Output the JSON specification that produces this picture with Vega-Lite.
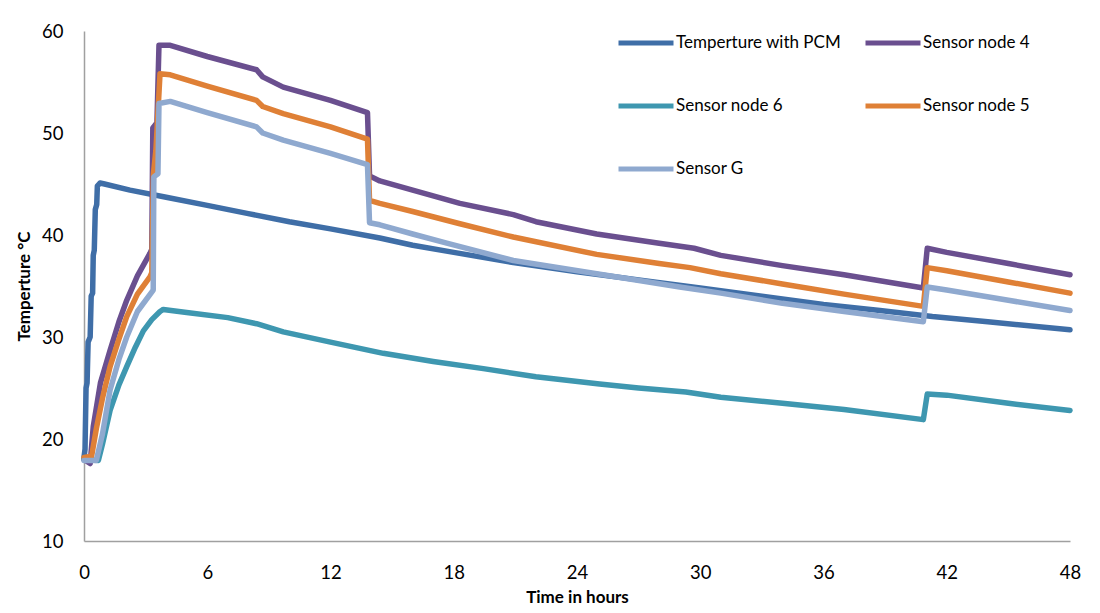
{
  "$schema": "https://vega.github.io/schema/vega-lite/v6.json",
  "width": 986,
  "height": 510,
  "autosize": {"type": "none"},
  "padding": {"left": 84, "top": 31, "right": 30, "bottom": 72},
  "background": "white",
  "config": {
    "view": {"stroke": null},
    "font": "Lato",
    "axis": {
      "grid": false,
      "ticks": false,
      "tickSize": 0,
      "domainColor": "#a0a0a0",
      "domainWidth": 1.5,
      "labelFont": "Lato",
      "labelFontSize": 18.5,
      "labelColor": "#000000",
      "titleFont": "Lato",
      "titleFontSize": 17,
      "titleFontWeight": "bold",
      "titleColor": "#000000"
    },
    "legend": {
      "labelFont": "Lato",
      "labelFontSize": 17,
      "labelColor": "#000000",
      "labelLimit": 400
    }
  },
  "data": {
    "values": [
      {"h": 0, "t": 18.2, "s": "Temperture with PCM"},
      {"h": 0.05, "t": 19.0, "s": "Temperture with PCM"},
      {"h": 0.1, "t": 25.0, "s": "Temperture with PCM"},
      {"h": 0.15, "t": 25.5, "s": "Temperture with PCM"},
      {"h": 0.2, "t": 29.5, "s": "Temperture with PCM"},
      {"h": 0.3, "t": 30.0, "s": "Temperture with PCM"},
      {"h": 0.35, "t": 34.0, "s": "Temperture with PCM"},
      {"h": 0.42, "t": 34.3, "s": "Temperture with PCM"},
      {"h": 0.45, "t": 38.0, "s": "Temperture with PCM"},
      {"h": 0.5, "t": 38.5, "s": "Temperture with PCM"},
      {"h": 0.55, "t": 42.5, "s": "Temperture with PCM"},
      {"h": 0.62, "t": 43.0, "s": "Temperture with PCM"},
      {"h": 0.65, "t": 44.8, "s": "Temperture with PCM"},
      {"h": 0.78, "t": 45.1, "s": "Temperture with PCM"},
      {"h": 1, "t": 45.0, "s": "Temperture with PCM"},
      {"h": 2.24, "t": 44.4, "s": "Temperture with PCM"},
      {"h": 4, "t": 43.7, "s": "Temperture with PCM"},
      {"h": 6, "t": 42.9, "s": "Temperture with PCM"},
      {"h": 8, "t": 42.1, "s": "Temperture with PCM"},
      {"h": 10, "t": 41.3, "s": "Temperture with PCM"},
      {"h": 12, "t": 40.6, "s": "Temperture with PCM"},
      {"h": 14.4, "t": 39.7, "s": "Temperture with PCM"},
      {"h": 16, "t": 39.0, "s": "Temperture with PCM"},
      {"h": 18, "t": 38.3, "s": "Temperture with PCM"},
      {"h": 20.9, "t": 37.3, "s": "Temperture with PCM"},
      {"h": 24, "t": 36.4, "s": "Temperture with PCM"},
      {"h": 27, "t": 35.6, "s": "Temperture with PCM"},
      {"h": 30, "t": 34.8, "s": "Temperture with PCM"},
      {"h": 33, "t": 34.0, "s": "Temperture with PCM"},
      {"h": 36, "t": 33.2, "s": "Temperture with PCM"},
      {"h": 38.75, "t": 32.6, "s": "Temperture with PCM"},
      {"h": 41.3, "t": 32.0, "s": "Temperture with PCM"},
      {"h": 44, "t": 31.5, "s": "Temperture with PCM"},
      {"h": 48, "t": 30.7, "s": "Temperture with PCM"},

      {"h": 0, "t": 18.0, "s": "Sensor node 4"},
      {"h": 0.3, "t": 17.6, "s": "Sensor node 4"},
      {"h": 0.45, "t": 21.2, "s": "Sensor node 4"},
      {"h": 0.8, "t": 25.5, "s": "Sensor node 4"},
      {"h": 1.27, "t": 28.7, "s": "Sensor node 4"},
      {"h": 1.7, "t": 31.5, "s": "Sensor node 4"},
      {"h": 2.08, "t": 33.6, "s": "Sensor node 4"},
      {"h": 2.6, "t": 36.0, "s": "Sensor node 4"},
      {"h": 3.21, "t": 38.2, "s": "Sensor node 4"},
      {"h": 3.3, "t": 38.6, "s": "Sensor node 4"},
      {"h": 3.35, "t": 50.5, "s": "Sensor node 4"},
      {"h": 3.55, "t": 51.0, "s": "Sensor node 4"},
      {"h": 3.65, "t": 58.6, "s": "Sensor node 4"},
      {"h": 4.2, "t": 58.6, "s": "Sensor node 4"},
      {"h": 6, "t": 57.5, "s": "Sensor node 4"},
      {"h": 8.4, "t": 56.2, "s": "Sensor node 4"},
      {"h": 8.7, "t": 55.5, "s": "Sensor node 4"},
      {"h": 9.7, "t": 54.5, "s": "Sensor node 4"},
      {"h": 12, "t": 53.2, "s": "Sensor node 4"},
      {"h": 13.8, "t": 52.0, "s": "Sensor node 4"},
      {"h": 13.9, "t": 45.8, "s": "Sensor node 4"},
      {"h": 14.4, "t": 45.3, "s": "Sensor node 4"},
      {"h": 16, "t": 44.4, "s": "Sensor node 4"},
      {"h": 18.3, "t": 43.1, "s": "Sensor node 4"},
      {"h": 20.9, "t": 42.0, "s": "Sensor node 4"},
      {"h": 22, "t": 41.3, "s": "Sensor node 4"},
      {"h": 24.96, "t": 40.1, "s": "Sensor node 4"},
      {"h": 28, "t": 39.2, "s": "Sensor node 4"},
      {"h": 29.7, "t": 38.7, "s": "Sensor node 4"},
      {"h": 31, "t": 38.0, "s": "Sensor node 4"},
      {"h": 34, "t": 37.0, "s": "Sensor node 4"},
      {"h": 37, "t": 36.1, "s": "Sensor node 4"},
      {"h": 40.86, "t": 34.8, "s": "Sensor node 4"},
      {"h": 41.05, "t": 38.7, "s": "Sensor node 4"},
      {"h": 42, "t": 38.3, "s": "Sensor node 4"},
      {"h": 45, "t": 37.2, "s": "Sensor node 4"},
      {"h": 48, "t": 36.1, "s": "Sensor node 4"},

      {"h": 0, "t": 18.0, "s": "Sensor node 6"},
      {"h": 0.7, "t": 17.9, "s": "Sensor node 6"},
      {"h": 0.9, "t": 19.5, "s": "Sensor node 6"},
      {"h": 1.27, "t": 22.8, "s": "Sensor node 6"},
      {"h": 1.7, "t": 25.3, "s": "Sensor node 6"},
      {"h": 2.08, "t": 27.1, "s": "Sensor node 6"},
      {"h": 2.5, "t": 29.0, "s": "Sensor node 6"},
      {"h": 2.89, "t": 30.6, "s": "Sensor node 6"},
      {"h": 3.3, "t": 31.7, "s": "Sensor node 6"},
      {"h": 3.7, "t": 32.5, "s": "Sensor node 6"},
      {"h": 3.86, "t": 32.7, "s": "Sensor node 6"},
      {"h": 5, "t": 32.4, "s": "Sensor node 6"},
      {"h": 7, "t": 31.9, "s": "Sensor node 6"},
      {"h": 8.4, "t": 31.3, "s": "Sensor node 6"},
      {"h": 9.7, "t": 30.5, "s": "Sensor node 6"},
      {"h": 12, "t": 29.5, "s": "Sensor node 6"},
      {"h": 14.57, "t": 28.4, "s": "Sensor node 6"},
      {"h": 17, "t": 27.6, "s": "Sensor node 6"},
      {"h": 19.44, "t": 26.9, "s": "Sensor node 6"},
      {"h": 22, "t": 26.1, "s": "Sensor node 6"},
      {"h": 25.1, "t": 25.4, "s": "Sensor node 6"},
      {"h": 27, "t": 25.0, "s": "Sensor node 6"},
      {"h": 29.3, "t": 24.6, "s": "Sensor node 6"},
      {"h": 31, "t": 24.1, "s": "Sensor node 6"},
      {"h": 34, "t": 23.5, "s": "Sensor node 6"},
      {"h": 37, "t": 22.9, "s": "Sensor node 6"},
      {"h": 40.86, "t": 21.9, "s": "Sensor node 6"},
      {"h": 41.05, "t": 24.4, "s": "Sensor node 6"},
      {"h": 42, "t": 24.3, "s": "Sensor node 6"},
      {"h": 45, "t": 23.5, "s": "Sensor node 6"},
      {"h": 48, "t": 22.8, "s": "Sensor node 6"},

      {"h": 0, "t": 18.2, "s": "Sensor node 5"},
      {"h": 0.37, "t": 18.3, "s": "Sensor node 5"},
      {"h": 0.6, "t": 21.0, "s": "Sensor node 5"},
      {"h": 0.9, "t": 24.0, "s": "Sensor node 5"},
      {"h": 1.27, "t": 27.1, "s": "Sensor node 5"},
      {"h": 1.7, "t": 29.8, "s": "Sensor node 5"},
      {"h": 2.08, "t": 32.0, "s": "Sensor node 5"},
      {"h": 2.6, "t": 34.2, "s": "Sensor node 5"},
      {"h": 3.21, "t": 35.9, "s": "Sensor node 5"},
      {"h": 3.3, "t": 36.3, "s": "Sensor node 5"},
      {"h": 3.38, "t": 46.0, "s": "Sensor node 5"},
      {"h": 3.5, "t": 48.3, "s": "Sensor node 5"},
      {"h": 3.7, "t": 55.8, "s": "Sensor node 5"},
      {"h": 4.2, "t": 55.7, "s": "Sensor node 5"},
      {"h": 6, "t": 54.6, "s": "Sensor node 5"},
      {"h": 8.4, "t": 53.2, "s": "Sensor node 5"},
      {"h": 8.7, "t": 52.6, "s": "Sensor node 5"},
      {"h": 9.7, "t": 51.9, "s": "Sensor node 5"},
      {"h": 12, "t": 50.6, "s": "Sensor node 5"},
      {"h": 13.8, "t": 49.4, "s": "Sensor node 5"},
      {"h": 13.9, "t": 43.4, "s": "Sensor node 5"},
      {"h": 14.4, "t": 43.1, "s": "Sensor node 5"},
      {"h": 16, "t": 42.3, "s": "Sensor node 5"},
      {"h": 18.3, "t": 41.1, "s": "Sensor node 5"},
      {"h": 20.9, "t": 39.8, "s": "Sensor node 5"},
      {"h": 24.96, "t": 38.1, "s": "Sensor node 5"},
      {"h": 28, "t": 37.2, "s": "Sensor node 5"},
      {"h": 29.5, "t": 36.8, "s": "Sensor node 5"},
      {"h": 31, "t": 36.2, "s": "Sensor node 5"},
      {"h": 34, "t": 35.2, "s": "Sensor node 5"},
      {"h": 37, "t": 34.2, "s": "Sensor node 5"},
      {"h": 40.86, "t": 33.0, "s": "Sensor node 5"},
      {"h": 41.05, "t": 36.8, "s": "Sensor node 5"},
      {"h": 42, "t": 36.5, "s": "Sensor node 5"},
      {"h": 45, "t": 35.4, "s": "Sensor node 5"},
      {"h": 48, "t": 34.3, "s": "Sensor node 5"},

      {"h": 0, "t": 17.9, "s": "Sensor G"},
      {"h": 0.6, "t": 17.9, "s": "Sensor G"},
      {"h": 0.9, "t": 20.5, "s": "Sensor G"},
      {"h": 1.27, "t": 24.8, "s": "Sensor G"},
      {"h": 1.7, "t": 27.8, "s": "Sensor G"},
      {"h": 2.08, "t": 30.0, "s": "Sensor G"},
      {"h": 2.6, "t": 32.5, "s": "Sensor G"},
      {"h": 3.37, "t": 34.6, "s": "Sensor G"},
      {"h": 3.4, "t": 45.7, "s": "Sensor G"},
      {"h": 3.6, "t": 46.0, "s": "Sensor G"},
      {"h": 3.65, "t": 52.9, "s": "Sensor G"},
      {"h": 4.2, "t": 53.1, "s": "Sensor G"},
      {"h": 6, "t": 52.0, "s": "Sensor G"},
      {"h": 8.4, "t": 50.6, "s": "Sensor G"},
      {"h": 8.7, "t": 50.0, "s": "Sensor G"},
      {"h": 9.7, "t": 49.3, "s": "Sensor G"},
      {"h": 12, "t": 48.0, "s": "Sensor G"},
      {"h": 13.8, "t": 46.9, "s": "Sensor G"},
      {"h": 13.9, "t": 41.2, "s": "Sensor G"},
      {"h": 14.4, "t": 41.0, "s": "Sensor G"},
      {"h": 16, "t": 40.1, "s": "Sensor G"},
      {"h": 17.66, "t": 39.2, "s": "Sensor G"},
      {"h": 20.9, "t": 37.5, "s": "Sensor G"},
      {"h": 24.96, "t": 36.2, "s": "Sensor G"},
      {"h": 29, "t": 34.9, "s": "Sensor G"},
      {"h": 31, "t": 34.3, "s": "Sensor G"},
      {"h": 34, "t": 33.3, "s": "Sensor G"},
      {"h": 37, "t": 32.5, "s": "Sensor G"},
      {"h": 40.86, "t": 31.5, "s": "Sensor G"},
      {"h": 41.05, "t": 34.9, "s": "Sensor G"},
      {"h": 42, "t": 34.6, "s": "Sensor G"},
      {"h": 45, "t": 33.6, "s": "Sensor G"},
      {"h": 48, "t": 32.6, "s": "Sensor G"}
    ]
  },
  "mark": {
    "type": "line",
    "strokeWidth": 5.5,
    "strokeCap": "round",
    "strokeJoin": "round",
    "clip": false
  },
  "encoding": {
    "x": {
      "field": "h",
      "type": "quantitative",
      "title": "Time in hours",
      "scale": {"domain": [0, 48], "nice": false, "zero": false},
      "axis": {
        "values": [0, 6, 12, 18, 24, 30, 36, 42, 48],
        "labelPadding": 22,
        "titlePadding": 8,
        "labelFlush": false
      }
    },
    "y": {
      "field": "t",
      "type": "quantitative",
      "title": "Temperture °C",
      "scale": {"domain": [10, 60], "nice": false, "zero": false},
      "axis": {
        "values": [10, 20, 30, 40, 50, 60],
        "labelPadding": 21,
        "titlePadding": 8
      }
    },
    "color": {
      "field": "s",
      "type": "nominal",
      "title": null,
      "scale": {
        "domain": ["Temperture with PCM", "Sensor node 4", "Sensor node 6", "Sensor node 5", "Sensor G"],
        "range": ["#3f6ea7", "#6a4f8f", "#3e97b0", "#df8036", "#8fa9cf"]
      },
      "legend": {
        "orient": "none",
        "direction": "horizontal",
        "legendX": 532,
        "legendY": -18,
        "columns": 2,
        "symbolType": "stroke",
        "symbolSize": 3025,
        "symbolStrokeWidth": 5,
        "labelOffset": 0,
        "columnPadding": 13,
        "rowPadding": 23,
        "padding": 0
      }
    }
  }
}
